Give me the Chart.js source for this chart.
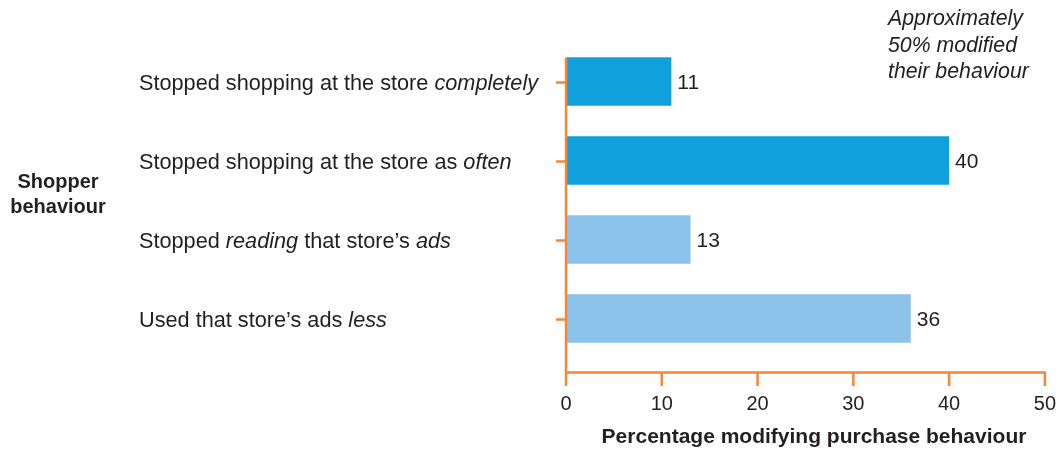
<!DOCTYPE html>
<html>
<head>
<meta charset="utf-8">
<script src="https://cdn.jsdelivr.net/npm/chart.js@4"></script>
<style>
  html, body { margin: 0; padding: 0; background: #fff; }
  #wrap { width: 1056px; height: 449px; }
</style>
</head>
<body>
<div id="wrap"><canvas id="behaviourChart"></canvas></div>
<script>
// words between asterisks are set in italics
const categories = [
  "Stopped shopping at the store *completely*",
  "Stopped shopping at the store as *often*",
  "Stopped *reading* that store\u2019s *ads*",
  "Used that store\u2019s ads *less*"
];
const percentages = [11, 40, 13, 36];
const barColors = ["#10a1dc", "#10a1dc", "#8cc3ea", "#8cc3ea"];
const sideTitle = ["Shopper", "behaviour"];
const axisTitle = "Percentage modifying purchase behaviour";
const note = ["Approximately", "50% modified", "their behaviour"];

const FONT = "'Liberation Sans', Arial, sans-serif";
const INK = "#231f20";
const ORANGE = "#f4873a";

function splitItalics(text) {
  return text.split("*").map((t, i) => ({ text: t, italic: i % 2 === 1 })).filter(p => p.text);
}

const decorations = {
  id: "decorations",
  afterDatasetsDraw(chart) {
    const ctx = chart.ctx;
    const x = chart.scales.x;
    const y = chart.scales.y;
    const area = chart.chartArea;
    const x0 = x.getPixelForValue(0);
    const axisY = area.bottom + 14.5;

    ctx.save();
    ctx.strokeStyle = ORANGE;
    ctx.lineWidth = 2.5;

    // axis lines
    ctx.beginPath();
    ctx.moveTo(x0, area.top + 16);
    ctx.lineTo(x0, axisY);
    ctx.lineTo(x.getPixelForValue(50) + 1, axisY);
    ctx.stroke();

    // x tick marks
    x.ticks.forEach(t => {
      const px = x.getPixelForValue(t.value);
      ctx.beginPath();
      ctx.moveTo(px, axisY);
      ctx.lineTo(px, axisY + 13.5);
      ctx.stroke();
    });

    // category tick marks and labels (shared baseline so italic parts line up)
    ctx.fillStyle = INK;
    ctx.textBaseline = "alphabetic";
    ctx.textAlign = "left";
    categories.forEach((label, i) => {
      const py = y.getPixelForValue(i) + 1;
      ctx.beginPath();
      ctx.moveTo(x0 - 10, py);
      ctx.lineTo(x0, py);
      ctx.stroke();

      let px = 139;
      splitItalics(label).forEach(part => {
        ctx.font = (part.italic ? "italic " : "") + "21.7px " + FONT;
        ctx.fillText(part.text, px, py + 7.5);
        px += ctx.measureText(part.text).width;
      });
    });

    // values at the bar ends
    ctx.font = "21px " + FONT;
    chart.getDatasetMeta(0).data.forEach((bar, i) => {
      ctx.fillText(String(percentages[i]), bar.x + 6, bar.y + 7.5);
    });

    // axis titles
    ctx.textAlign = "center";
    ctx.font = "bold 21px " + FONT;
    ctx.fillText(axisTitle, 814, 443);
    ctx.font = "bold 20px " + FONT;
    sideTitle.forEach((line, i) => ctx.fillText(line, 58, 188 + i * 25));

    // note in the top right corner
    ctx.font = "italic 21.3px " + FONT;
    ctx.textAlign = "left";
    note.forEach((line, i) => ctx.fillText(line, 888, 25 + i * 26.5));

    ctx.restore();
  }
};

new Chart("behaviourChart", {
  type: "bar",
  data: {
    labels: categories,
    datasets: [{
      data: percentages,
      backgroundColor: barColors,
      barPercentage: 0.615,
      categoryPercentage: 1
    }]
  },
  options: {
    indexAxis: "y",
    responsive: true,
    maintainAspectRatio: false,
    animation: false,
    layout: { padding: { left: 566, right: 11, top: 42, bottom: 0 } },
    plugins: {
      legend: { display: false },
      tooltip: { enabled: false }
    },
    scales: {
      x: {
        min: 0,
        max: 50,
        // tick marks are drawn by the plugin; tickLength only pushes the labels down
        grid: { display: false, drawTicks: true, tickLength: 34 },
        border: { display: false },
        ticks: { stepSize: 10, padding: 0, color: INK, font: { family: FONT, size: 20 } },
        afterFit(scale) { scale.height = 91; }
      },
      y: {
        grid: { display: false, drawTicks: false },
        border: { display: false },
        ticks: { display: false },
        afterFit(scale) { scale.width = 0; }
      }
    }
  },
  plugins: [decorations]
});
</script>
</body>
</html>
